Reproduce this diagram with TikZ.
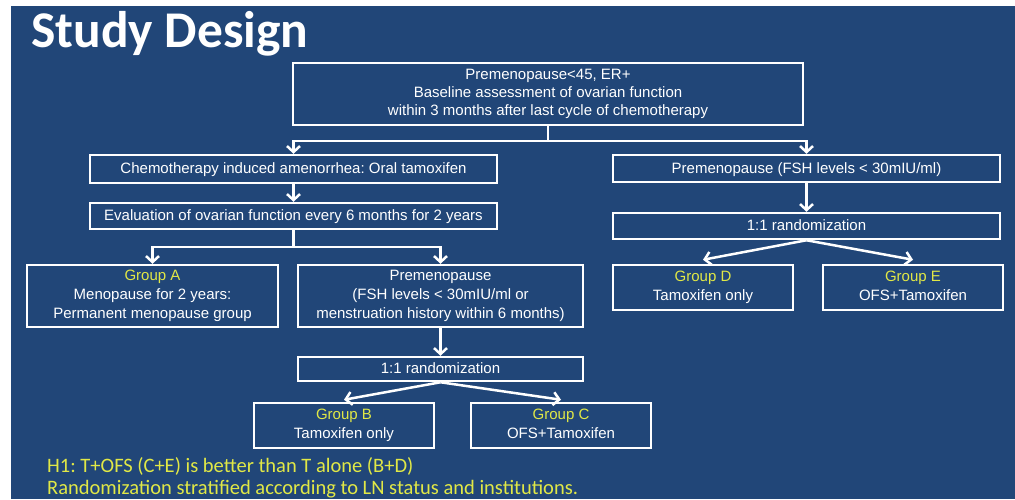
\documentclass[tikz,border=0pt]{standalone}
\usepackage{fontspec}
\setmainfont{Liberation Sans}
\newfontfamily\calibri{Carlito}
\usepackage{xcolor}
\usetikzlibrary{arrows.meta,positioning,calc}

\definecolor{slideblue}{RGB}{33,70,120}
\definecolor{grpyellow}{RGB}{225,232,70}
\newcommand{\bxstrut}{\rule[-4pt]{0pt}{17pt}}
\frenchspacing

\begin{document}
\begin{tikzpicture}[x=1pt,y=-1pt,
  box/.style={draw=white,line width=2.5pt,text=white,align=center,inner sep=0pt,
    font=\fontsize{15}{19}\selectfont,
    execute at begin node=\bxstrut,execute at end node=\bxstrut},
  arr/.style={draw=white,line width=2.5pt,-{Straight Barb[length=6pt,width=13pt]}},
  lnk/.style={draw=white,line width=2.5pt},
  note/.style={anchor=base west,text=grpyellow,inner sep=0pt,
    font=\calibri\fontsize{20.5}{22}\selectfont}]
  \useasboundingbox (0,0) rectangle (1015,499);
  \fill[white] (0,0) rectangle (1015,499);
  \fill[slideblue] (11,6) rectangle (1015,499);
  \node[anchor=base west,text=white,inner sep=0pt,
    font=\calibri\bfseries\fontsize{51.5}{52}\selectfont] (title) at (31,47) {Study Design};

  % top of the flow
  \node[box,minimum width=510,minimum height=62,font=\fontsize{15}{18}\selectfont] (base) at (548,94)
    {Premenopause<45, ER+\\Baseline assessment of ovarian function\\within 3 months after last cycle of chemotherapy};
  \coordinate (fork1) at (548,141);
  \node[box,minimum width=407,minimum height=28] (cia) at (293.5,169)
    {Chemotherapy induced amenorrhea: Oral tamoxifen};
  \node[box,minimum width=387,minimum height=27] (premR) at (806.5,168.5)
    {Premenopause (FSH levels < 30mIU/ml)};
  \node[box,minimum width=407,minimum height=26] (evalu) at (293.5,216)
    {Evaluation of ovarian function every 6 months for 2 years};
  \node[box,minimum width=387,minimum height=26] (randR) at (806.5,226)
    {1:1 randomization};
  \coordinate (fork2) at (293.5,247);

  % groups
  \node[box,minimum width=251,minimum height=62] (grpA) at (152.5,296)
    {\textcolor{grpyellow}{Group A}\\Menopause for 2 years:\\Permanent menopause group};
  \node[box,minimum width=285,minimum height=62] (premL) at (440.5,296)
    {Premenopause\\(FSH levels < 30mIU/ml or\\menstruation history within 6 months)};
  \node[box,minimum width=180,minimum height=45] (grpD) at (703,287.5)
    {\textcolor{grpyellow}{Group D}\\Tamoxifen only};
  \node[box,minimum width=180,minimum height=45] (grpE) at (913,287.5)
    {\textcolor{grpyellow}{Group E}\\OFS+Tamoxifen};
  \node[box,minimum width=285,minimum height=24] (randL) at (440.5,369)
    {1:1 randomization};
  \node[box,minimum width=180,minimum height=45] (grpB) at (344,425.5)
    {\textcolor{grpyellow}{Group B}\\Tamoxifen only};
  \node[box,minimum width=180,minimum height=45] (grpC) at (561,425.5)
    {\textcolor{grpyellow}{Group C}\\OFS+Tamoxifen};

  % connectors
  \draw[lnk] (base.south) -- (fork1);
  \draw[arr] (fork1) -| (cia.north);
  \draw[arr] (fork1) -| (premR.north);
  \draw[arr] (cia) -- (evalu);
  \draw[arr] (premR) -- (randR);
  \draw[lnk] (evalu.south) -- (fork2);
  \draw[arr] (fork2) -| (grpA.north);
  \draw[arr] (fork2) -| (premL.north);
  \draw[arr] (randR.south) -- ([yshift=4pt]grpD.north);
  \draw[arr] (randR.south) -- ([yshift=4pt]grpE.north);
  \draw[arr] (premL) -- (randL);
  \draw[arr] (randL.south) -- ([yshift=2pt]grpB.north);
  \draw[arr] (randL.south) -- ([yshift=2pt]grpC.north);

  % hypothesis
  \node[note] (hyp) at (47,472) {H1: T+OFS (C+E) is better than T alone (B+D)};
  \node[note] (strat) at (47,494.5) {Randomization stratified according to LN status and institutions.};
\end{tikzpicture}
\end{document}
